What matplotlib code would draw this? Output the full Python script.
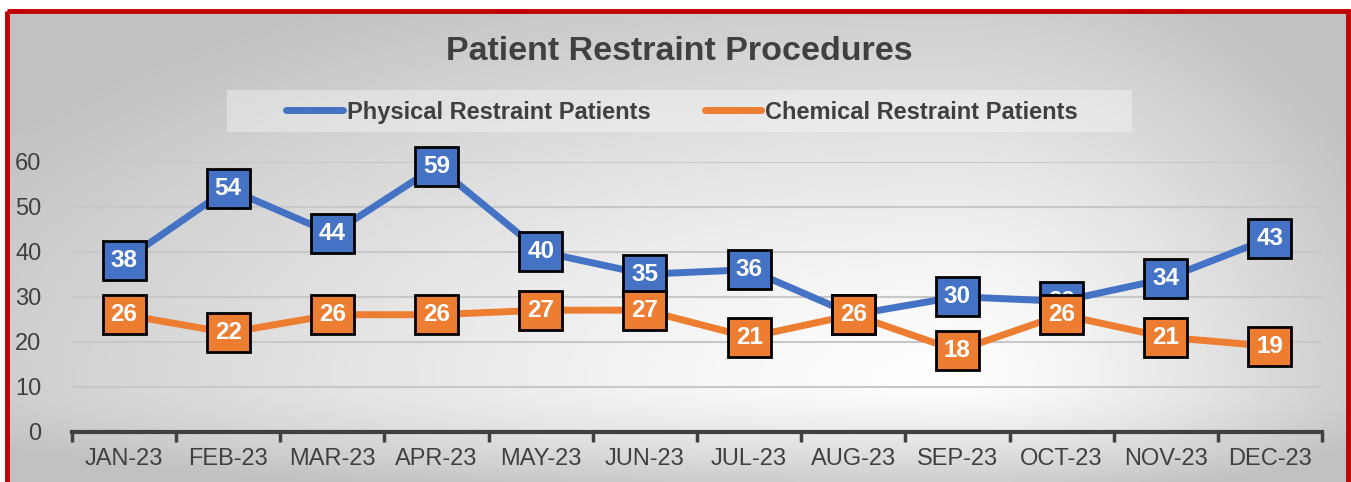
import matplotlib
matplotlib.use("Agg")
import matplotlib.pyplot as plt
import numpy as np
from matplotlib.patches import Rectangle
from matplotlib.lines import Line2D

plt.rcParams['font.family'] = ['Liberation Sans', 'DejaVu Sans']

months = ['JAN-23', 'FEB-23', 'MAR-23', 'APR-23', 'MAY-23', 'JUN-23',
          'JUL-23', 'AUG-23', 'SEP-23', 'OCT-23', 'NOV-23', 'DEC-23']
physical = [38, 54, 44, 59, 40, 35, 36, 26, 30, 29, 34, 43]
chemical = [26, 22, 26, 26, 27, 27, 21, 26, 18, 26, 21, 19]
yticks = [0, 10, 20, 30, 40, 50, 60]

BLUE = '#4472C4'
ORANGE = '#ED7D31'
TXT = '#404040'

W, H = 1351, 482
fig = plt.figure(figsize=(W / 100, H / 100), dpi=100)
fig.patch.set_facecolor('white')

# background: radial-ish gradient inside the red frame
bg = fig.add_axes([0, 0, 1, 1])
bg.set_xlim(0, W)
bg.set_ylim(H, 0)
bg.axis('off')
xx, yy = np.meshgrid(np.linspace(0, W, 400), np.linspace(0, H, 160))
cx, cy = 950, 380
dx = np.where(xx < cx, (xx - cx) / cx, (xx - cx) / (W - cx))
dy = np.where(yy < cy, (yy - cy) / cy, (yy - cy) / (H - cy))
d = np.clip(np.sqrt(dx ** 2 + dy ** 2) / 1.2, 0, 1) ** 1.3
grey = 1.0 - d * (1.0 - 0.76)
img = np.dstack([grey, grey, grey])
bg.imshow(img, extent=(7, W - 3, H, 11), aspect='auto', interpolation='bicubic')
bg.add_patch(Rectangle((7, 11), W - 10, H + 10, fill=False, edgecolor='#C00000', lw=3.5))
# legend backing box
bg.add_patch(Rectangle((227, 90), 905, 42, facecolor='white', alpha=0.35, edgecolor='none'))

fig.text(679 / W, 1 - 51 / H, 'Patient Restraint Procedures', ha='center', va='center',
         fontsize=24.5, fontweight='bold', color=TXT)

ax = fig.add_axes([72 / W, 1 - 431.7 / H, 1250 / W, 270 / H])
ax.set_facecolor('none')
x = np.arange(len(months))

ax.plot(x, physical, color=BLUE, lw=5, solid_capstyle='round', zorder=3)
ax.plot(x, chemical, color=ORANGE, lw=5, solid_capstyle='round', zorder=3)

for xi, v in zip(x, physical):
    ax.text(xi, v, str(v), ha='center', va='center', color='white', fontsize=17.5,
            fontweight='bold', zorder=4, clip_on=False,
            bbox=dict(boxstyle='square,pad=0.33', facecolor=BLUE, edgecolor='black', lw=2))
for xi, v in zip(x, chemical):
    ax.text(xi, v, str(v), ha='center', va='center', color='white', fontsize=17.5,
            fontweight='bold', zorder=5, clip_on=False,
            bbox=dict(boxstyle='square,pad=0.33', facecolor=ORANGE, edgecolor='black', lw=2))

ax.set_xlim(-0.5, len(months) - 0.5)
ax.set_ylim(0, 60)
ax.set_yticks(yticks)
ax.set_xticks(x)
ax.set_xticklabels(months)
ax.set_xticks(np.arange(-0.5, len(months), 1), minor=True)
ax.tick_params(axis='x', which='major', length=0, pad=12, labelsize=17, labelcolor=TXT)
ax.tick_params(axis='x', which='minor', length=7, width=2.5, color=TXT, direction='out')
ax.tick_params(axis='y', length=0, pad=22, labelsize=17, labelcolor=TXT)
ax.grid(axis='y', color='#C8C8C8', lw=1.5, zorder=0)
for s in ['top', 'right', 'left']:
    ax.spines[s].set_visible(False)
ax.spines['bottom'].set_color(TXT)
ax.spines['bottom'].set_linewidth(3)

handles = [Line2D([], [], color=BLUE, lw=5, solid_capstyle='round'),
           Line2D([], [], color=ORANGE, lw=5, solid_capstyle='round')]
leg = fig.legend(handles, ['Physical Restraint Patients', 'Chemical Restraint Patients'],
                 loc='center', bbox_to_anchor=(682 / W, 1 - 112 / H), ncol=2, frameon=False,
                 prop=dict(size=17, weight='bold'), handlelength=2.4, handletextpad=0.15,
                 columnspacing=2.3, borderaxespad=0)
for t in leg.get_texts():
    t.set_color(TXT)

fig.savefig('out.png', dpi=100)
